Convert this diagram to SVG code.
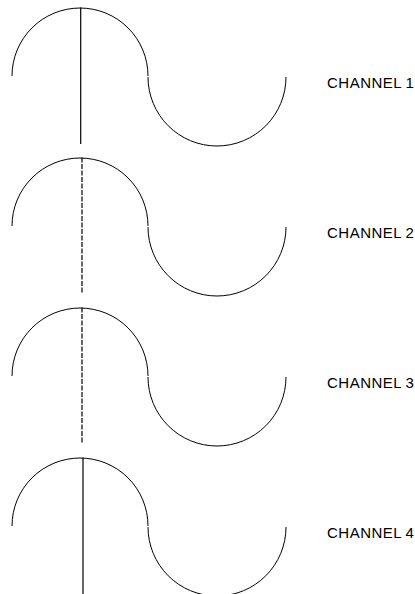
<svg xmlns="http://www.w3.org/2000/svg" width="415" height="594" viewBox="0 0 415 594">
<style>
.w{fill:none;stroke:#000;stroke-width:1}
.v{fill:none;stroke:#000;stroke-width:1.2}
.d{stroke-dasharray:5,1.5}
.t{font-family:"Liberation Sans",Arial,sans-serif;font-size:15px;letter-spacing:0.5px;fill:#000}
</style>
<rect width="415" height="594" fill="#fff"/>
<defs>
<path id="wave" d="M12,76 A68,68 0 0 1 148,76 M148,77 A69,69 0 0 0 286,77"/>
</defs>
<g id="channel1">
<use href="#wave" class="w"/>
<line x1="80.7" y1="7.5" x2="80.7" y2="144" class="v"/>
<text x="327" y="88" class="t">CHANNEL <tspan x="405.5">1</tspan></text>
</g>
<g id="channel2" transform="translate(0,150)">
<use href="#wave" class="w"/>
<line x1="82" y1="7.5" x2="82" y2="144" class="v d"/>
<text x="327" y="88" class="t">CHANNEL <tspan x="405.5">2</tspan></text>
</g>
<g id="channel3" transform="translate(0,300)">
<use href="#wave" class="w"/>
<line x1="82" y1="7.5" x2="82" y2="144" class="v d"/>
<text x="327" y="88" class="t">CHANNEL <tspan x="405.5">3</tspan></text>
</g>
<g id="channel4" transform="translate(0,450)">
<use href="#wave" class="w"/>
<line x1="83" y1="7.5" x2="83" y2="144" class="v"/>
<text x="327" y="88" class="t">CHANNEL <tspan x="405.5">4</tspan></text>
</g>
<g id="connectors"></g>
</svg>
